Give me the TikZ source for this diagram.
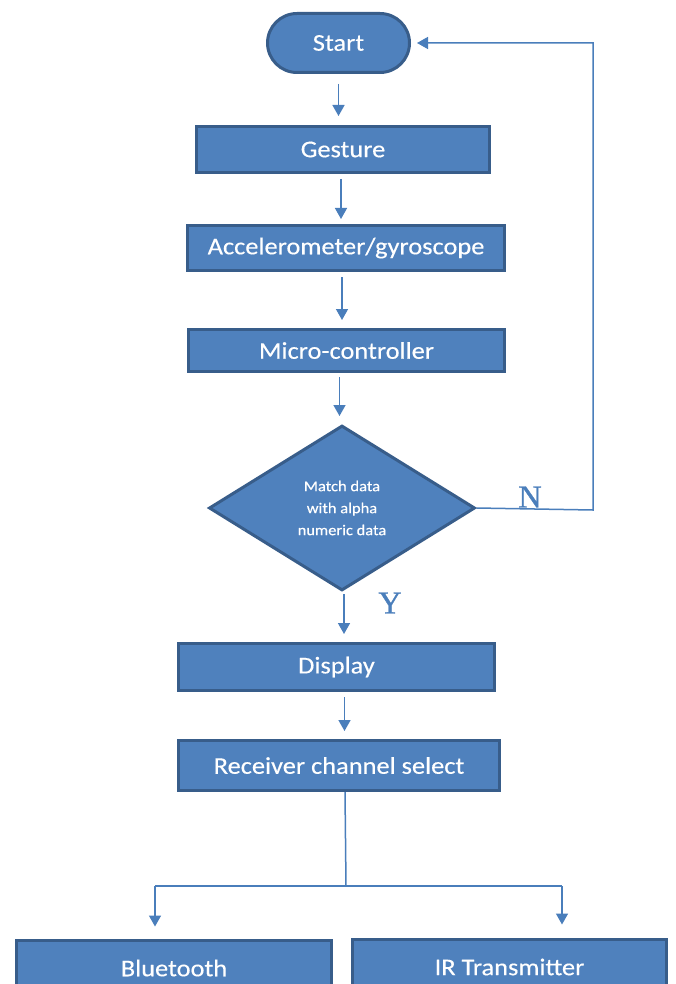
\documentclass[tikz,border=0pt]{standalone}
\usepackage{fontspec}
\setmainfont{Carlito}[FakeStretch=1.1,FakeBold=0.3]
\newfontfamily\labelfont{Liberation Serif}[FakeBold=1.2]
\usetikzlibrary{shapes.geometric,shapes.misc,arrows.meta}
\definecolor{boxfill}{HTML}{4F81BD}
\definecolor{boxline}{HTML}{385D8A}
\definecolor{wire}{HTML}{4A7EBB}
\tikzset{
  stepbox/.style={rectangle, draw=boxline, fill=boxfill, line width=3pt,
    text=white, font=\fontsize{24}{28}\selectfont, inner sep=0pt},
  terminal/.style={stepbox, rounded rectangle},
  decision/.style={diamond, draw=boxline, fill=boxfill, line width=3pt,
    text=white, inner sep=0pt, align=center,
    font=\fontsize{15}{22}\selectfont},
  flow/.style={draw=wire, line width=1.5pt,
    -{Triangle[width=12pt,length=11pt]}},
  wireline/.style={draw=wire, line width=1.5pt},
  yn/.style={text=wire, font=\labelfont\fontsize{32}{32}\selectfont}
}
\begin{document}
\begin{tikzpicture}[x=1pt,y=-1pt]
\useasboundingbox (0,0) rectangle (675,984);
\clip (0,0) rectangle (675,984);
\fill[white] (0,0) rectangle (675,984);

% process chain
\node[terminal, minimum width=142, minimum height=59] (start) at (338.5,43) {Start};
\node[stepbox, minimum width=293, minimum height=46] (gesture) at (343,149.5) {Gesture};
\node[stepbox, minimum width=317, minimum height=45] (accel) at (346,248) {Accelerometer/gyroscope};
\node[stepbox, minimum width=316, minimum height=42] (micro) at (346.5,350.5) {Micro-controller};
\node[decision, minimum width=266, minimum height=165] (match) at (342,508)
  {Match data\\with alpha\\numeric data};
\node[stepbox, minimum width=316, minimum height=47] (display) at (336.5,667) {Display};
\node[stepbox, minimum width=321, minimum height=50] (recv) at (339,765.5) {Receiver channel select};
\node[stepbox, minimum width=315, minimum height=56] (bt) at (174,968) {Bluetooth};
\node[stepbox, minimum width=314, minimum height=56] (ir) at (509.5,967) {IR Transmitter};

% vertical arrows, stopping short of each box
\draw[flow, shorten <=10pt, shorten >=9pt] (start.south) -- (start.south |- gesture.north);
\draw[flow, shorten <=5pt, shorten >=5pt] ([xshift=-2pt]gesture.south) -- ([xshift=-2pt]gesture.south |- accel.north);
\draw[flow, shorten <=5pt, shorten >=8pt] ([xshift=-4pt]accel.south) -- ([xshift=-4pt]accel.south |- micro.north);
\draw[flow, shorten <=4pt, shorten >=8pt] ([xshift=-7pt]micro.south) -- ([xshift=-7pt]micro.south |- match.north);
\draw[flow, shorten <=2pt, shorten >=8pt] ([xshift=2pt]match.south) -- ([xshift=2pt]match.south |- display.north);
\draw[flow, shorten <=5pt, shorten >=8pt] ([xshift=8pt]display.south) -- ([xshift=8pt]display.south |- recv.north);

% "no" branch back to start
\coordinate (loop) at (593,510);
\draw[flow, shorten >=6pt] (match.east) -- (loop) |- (start.east);
\node[yn] (nlabel) at (530,497) {N};
\node[yn] (ylabel) at (390,603) {Y};

% split to the two channels
\coordinate (split) at (346,886);
\coordinate (left) at (155,886);
\coordinate (right) at (562,886);
\draw[wireline] ([xshift=6pt]recv.south) -- (split);
\draw[wireline] (left) -- (right);
\draw[flow, shorten >=12pt] (left) -- (left |- bt.north);
\draw[flow, shorten >=13pt] (right) -- (right |- ir.north);
\end{tikzpicture}
\end{document}
